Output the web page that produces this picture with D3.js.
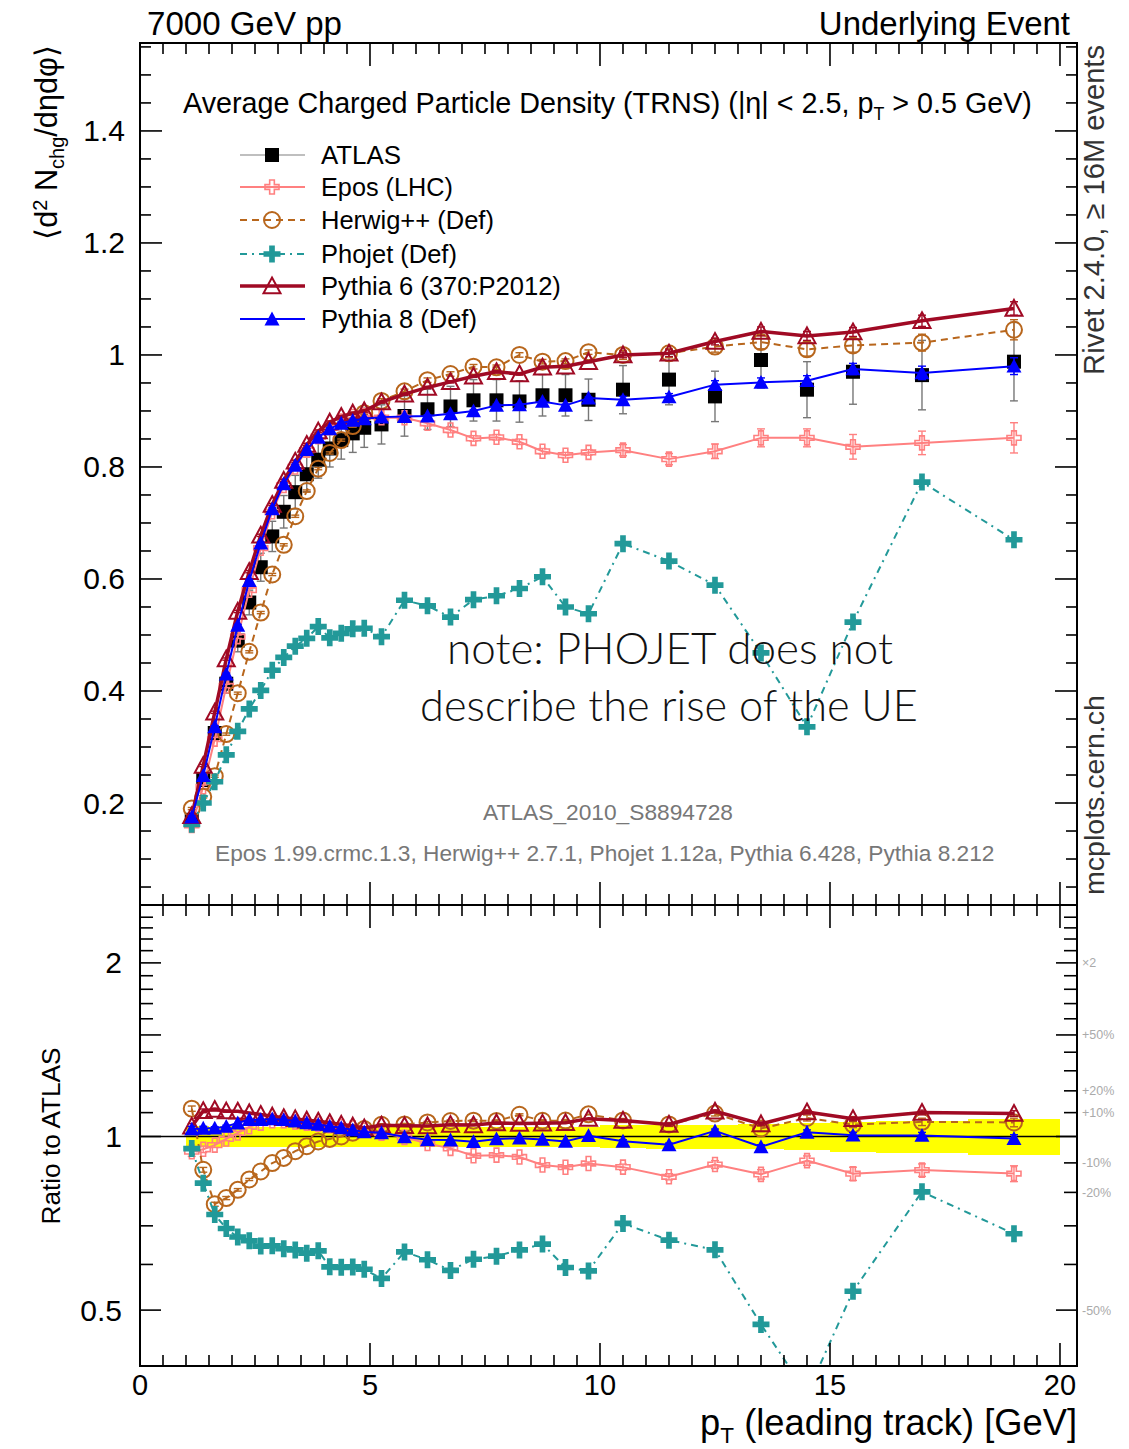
<!DOCTYPE html>
<html><head><meta charset="utf-8">
<script src="https://cdn.jsdelivr.net/npm/d3@7"></script>
<style>body{margin:0;background:#fff}svg{display:block}</style>
</head><body>
<svg id="c" width="1129" height="1449"></svg>
<script>
// ---------------- data ----------------
const pT = [1.125,1.375,1.625,1.875,2.125,2.375,2.625,2.875,3.125,3.375,3.625,3.875,4.125,4.375,4.625,4.875,
            5.25,5.75,6.25,6.75,7.25,7.75,8.25,8.75,9.25,9.75,10.5,11.5,12.5,13.5,14.5,15.5,17,19];
const binEdges = [1,1.25,1.5,1.75,2,2.25,2.5,2.75,3,3.25,3.5,3.75,4,4.25,4.5,4.75,5,
                  5.5,6,6.5,7,7.5,8,8.5,9,9.5,10,11,12,13,14,15,16,18,20];
const atlas = [0.170,0.241,0.325,0.413,0.490,0.558,0.621,0.676,0.720,0.755,0.787,0.813,0.833,0.848,0.860,0.870,
               0.876,0.891,0.903,0.908,0.919,0.919,0.917,0.928,0.928,0.920,0.938,0.956,0.926,0.991,0.938,0.970,0.964,0.988];
const atlasErr = [0.007,0.010,0.013,0.017,0.020,0.022,0.025,0.027,0.029,0.030,0.031,0.033,0.033,0.034,0.034,0.035,
                  0.035,0.036,0.036,0.036,0.037,0.037,0.037,0.037,0.037,0.037,0.043,0.045,0.045,0.050,0.050,0.058,0.062,0.070];
const epos = [0.160,0.229,0.314,0.409,0.497,0.580,0.655,0.720,0.767,0.800,0.830,0.854,0.870,0.882,0.890,0.892,
              0.888,0.888,0.878,0.866,0.851,0.853,0.845,0.828,0.821,0.826,0.830,0.814,0.828,0.852,0.852,0.836,0.843,0.852];
const eposErr = [0.003,0.003,0.003,0.003,0.003,0.003,0.003,0.003,0.003,0.003,0.003,0.003,0.003,0.003,0.003,0.003,
                 0.005,0.005,0.005,0.005,0.005,0.005,0.005,0.005,0.005,0.005,0.010,0.010,0.013,0.016,0.016,0.022,0.021,0.027];
const herwig = [0.190,0.211,0.248,0.323,0.396,0.470,0.540,0.608,0.661,0.712,0.757,0.797,0.825,0.848,0.873,0.896,
                0.918,0.935,0.955,0.966,0.979,0.978,1.000,0.988,0.989,1.005,1.000,1.003,1.015,1.023,1.010,1.017,1.022,1.045];
const herwigErr = [0.002,0.002,0.002,0.002,0.002,0.002,0.002,0.002,0.002,0.002,0.002,0.002,0.002,0.002,0.002,0.002,
                   0.004,0.004,0.004,0.004,0.004,0.004,0.004,0.004,0.004,0.004,0.008,0.008,0.010,0.012,0.012,0.012,0.015,0.018];
const phojet = [0.162,0.200,0.238,0.286,0.328,0.368,0.401,0.437,0.460,0.480,0.494,0.515,0.495,0.503,0.511,0.512,
                0.497,0.562,0.552,0.532,0.563,0.570,0.583,0.604,0.550,0.538,0.663,0.632,0.589,0.468,0.336,0.523,0.773,0.670];
const pythia6 = [0.177,0.267,0.362,0.457,0.542,0.613,0.678,0.733,0.776,0.810,0.840,0.864,0.880,0.890,0.896,0.900,
                 0.916,0.930,0.942,0.952,0.962,0.970,0.966,0.978,0.980,0.988,1.000,1.003,1.024,1.042,1.034,1.041,1.061,1.083];
const pythia6Err = [0.002,0.002,0.002,0.002,0.002,0.002,0.002,0.002,0.002,0.002,0.002,0.002,0.002,0.002,0.002,0.002,
                    0.002,0.002,0.002,0.002,0.002,0.002,0.002,0.002,0.002,0.002,0.005,0.006,0.006,0.008,0.008,0.008,0.010,0.012];
const pythia8 = [0.175,0.249,0.336,0.430,0.517,0.597,0.664,0.725,0.770,0.803,0.831,0.853,0.868,0.878,0.883,0.886,
                 0.889,0.890,0.891,0.895,0.900,0.910,0.911,0.917,0.910,0.923,0.920,0.925,0.947,0.951,0.954,0.975,0.968,0.980];
const pythia8Err = [0.002,0.002,0.002,0.002,0.002,0.002,0.002,0.002,0.002,0.002,0.002,0.002,0.002,0.002,0.002,0.002,
                    0.002,0.002,0.002,0.002,0.002,0.002,0.002,0.002,0.002,0.002,0.006,0.006,0.007,0.008,0.009,0.010,0.012,0.015];
const seriesNames = ["ATLAS","Epos (LHC)","Herwig++ (Def)","Phojet (Def)","Pythia 6 (370:P2012)","Pythia 8 (Def)"];
const xTickLabels = [0,5,10,15,20];
const yTickLabels = [0.2,0.4,0.6,0.8,1,1.2,1.4];
const ratioTickLabels = [0.5,1,2];
const ratioSideLabels = [["\u00d72",2],["+50%",1.5],["+20%",1.2],["+10%",1.1],["-10%",0.9],["-20%",0.8],["-50%",0.5]];

// ---------------- layout ----------------
const FONT = "'Liberation Sans', Arial, Helvetica, sans-serif";
const svg = d3.select("#c");
const X0 = 140, X1 = 1077, T0 = 43, T1 = 905, R0 = 905, R1 = 1366;
const x = d3.scaleLinear().domain([0, 20.37]).range([X0, X1]);
const y = d3.scaleLinear().domain([0.0179, 1.557]).range([T1, T0]);
const yr = d3.scaleLog().domain([0.4, 2.52]).range([R1, R0]);

svg.append("rect").attr("width",1129).attr("height",1449).attr("fill","#fff");

const defs = svg.append("defs");
defs.append("clipPath").attr("id","clipTop").append("rect").attr("x",X0).attr("y",T0).attr("width",X1-X0).attr("height",T1-T0);
defs.append("clipPath").attr("id","clipRat").append("rect").attr("x",X0).attr("y",R0).attr("width",X1-X0).attr("height",R1-R0);

// -------- marker shapes --------
function crossPath(s){const a=s/6,h=s/2;return `M${-a},${-h}L${a},${-h}L${a},${-a}L${h},${-a}L${h},${a}L${a},${a}L${a},${h}L${-a},${h}L${-a},${a}L${-h},${a}L${-h},${-a}L${-a},${-a}Z`;}
function triPath(s){const h=s*0.5;return `M0,${-h}L${h},${h*0.85}L${-h},${h*0.85}Z`;}
function drawMarker(g, type, color){
  if(type==="square") g.append("rect").attr("x",-7).attr("y",-7).attr("width",14).attr("height",14).attr("fill","#000");
  else if(type==="opencross") g.append("path").attr("d",crossPath(14)).attr("fill","none").attr("stroke",color).attr("stroke-width",1.6);
  else if(type==="opencircle") g.append("circle").attr("r",8).attr("fill","none").attr("stroke",color).attr("stroke-width",2);
  else if(type==="fullcross") g.append("path").attr("d",crossPath(17)).attr("fill",color);
  else if(type==="opentri") g.append("path").attr("d",triPath(17)).attr("fill","none").attr("stroke",color).attr("stroke-width",2);
  else if(type==="fulltri") g.append("path").attr("d",triPath(15)).attr("fill",color);
}

const series = [
  {name:seriesNames[1], vals:epos, err:eposErr, color:"#ff8080", lw:2, dash:null, marker:"opencross"},
  {name:seriesNames[2], vals:herwig, err:herwigErr, color:"#b8661c", lw:2, dash:"7,5", marker:"opencircle"},
  {name:seriesNames[3], vals:phojet, err:null, color:"#229999", lw:2, dash:"7,5,2,5", marker:"fullcross"},
  {name:seriesNames[4], vals:pythia6, err:pythia6Err, color:"#a00a24", lw:3.5, dash:null, marker:"opentri"},
  {name:seriesNames[5], vals:pythia8, err:pythia8Err, color:"#0000ff", lw:2, dash:null, marker:"fulltri"}
];

// -------- ratio band (drawn first) --------
const gRat = svg.append("g").attr("clip-path","url(#clipRat)");
pT.forEach((p,i)=>{
  const rel = atlasErr[i]/atlas[i];
  gRat.append("rect").attr("x",x(binEdges[i])).attr("width",x(binEdges[i+1])-x(binEdges[i]))
    .attr("y",yr(1+rel)).attr("height",yr(1-rel)-yr(1+rel)).attr("fill","#ffff00").attr("shape-rendering","crispEdges");
});
gRat.append("line").attr("x1",X0).attr("x2",X1).attr("y1",yr(1)).attr("y2",yr(1)).attr("stroke","#000").attr("stroke-width",1.6);

// -------- top panel data --------
const gTop = svg.append("g").attr("clip-path","url(#clipTop)");
pT.forEach((p,i)=>{
  const cx=x(p), y1=y(atlas[i]-atlasErr[i]), y2=y(atlas[i]+atlasErr[i]);
  gTop.append("line").attr("x1",cx).attr("x2",cx).attr("y1",y1).attr("y2",y2).attr("stroke","#777").attr("stroke-width",1.4);
  [y1,y2].forEach(yy=>gTop.append("line").attr("x1",cx-4).attr("x2",cx+4).attr("y1",yy).attr("y2",yy).attr("stroke","#777").attr("stroke-width",1.4));
});
pT.forEach((p,i)=>{ drawMarker(gTop.append("g").attr("transform",`translate(${x(p)},${y(atlas[i])})`),"square"); });

function drawSeries(g, vals, err, s, ys){
  const line = d3.line().x((d,i)=>x(pT[i])).y(d=>ys(d));
  g.append("path").attr("d",line(vals)).attr("fill","none").attr("stroke",s.color).attr("stroke-width",s.lw)
    .attr("stroke-dasharray",s.dash).attr("stroke-linejoin","round");
  if(err){
    vals.forEach((v,i)=>{
      const cx=x(pT[i]), a=ys(v-err[i]), b=ys(v+err[i]);
      if(Math.abs(a-b)<2) return;
      g.append("line").attr("x1",cx).attr("x2",cx).attr("y1",a).attr("y2",b).attr("stroke",s.color).attr("stroke-width",1.4);
      [a,b].forEach(yy=>g.append("line").attr("x1",cx-4).attr("x2",cx+4).attr("y1",yy).attr("y2",yy).attr("stroke",s.color).attr("stroke-width",1.4));
    });
  }
  vals.forEach((v,i)=>drawMarker(g.append("g").attr("transform",`translate(${x(pT[i])},${ys(v)})`), s.marker, s.color));
}
series.forEach(s=>drawSeries(gTop, s.vals, s.err, s, y));

// -------- ratio panel data --------
series.forEach(s=>{
  const r = s.vals.map((v,i)=>v/atlas[i]);
  const re = s.err ? s.err.map((e,i)=>e/atlas[i]) : null;
  drawSeries(gRat, r, re, s, yr);
});

// -------- frames & ticks --------
const axG = svg.append("g").attr("stroke","#000").attr("stroke-width",1.6);
const xt = d3.range(0, 20.3, 0.5);
function xTicksAt(yy, dir){
  xt.forEach(v=>{ const major = Math.abs(v%5)<1e-6; const L = major?23:11;
    axG.append("line").attr("x1",x(v)).attr("x2",x(v)).attr("y1",yy).attr("y2",yy+dir*L); });
}
xTicksAt(T0, 1); xTicksAt(T1, -1); xTicksAt(R0, 1); xTicksAt(R1, -1);
d3.range(0.05, 1.556, 0.05).forEach(v=>{
  const vv = Math.round(v*100)/100; if(y(vv)<T0+1||y(vv)>T1-1) return;
  const major = Math.abs(Math.round(vv*10)%2)===0 && Math.abs(vv*10-Math.round(vv*10))<1e-6;
  const L = major?22:11;
  axG.append("line").attr("x1",X0).attr("x2",X0+L).attr("y1",y(vv)).attr("y2",y(vv));
  axG.append("line").attr("x1",X1).attr("x2",X1-L).attr("y1",y(vv)).attr("y2",y(vv));
});
d3.range(5, 25, 1).map(k=>k/10).forEach(v=>{
  if(yr(v)<R0+2) return;
  const major = (v===0.5||v===1||v===1.5||v===2);
  const L = major?21:13;
  axG.append("line").attr("x1",X0).attr("x2",X0+L).attr("y1",yr(v)).attr("y2",yr(v));
  axG.append("line").attr("x1",X1).attr("x2",X1-L).attr("y1",yr(v)).attr("y2",yr(v));
});
svg.append("rect").attr("x",X0).attr("y",T0).attr("width",X1-X0).attr("height",T1-T0).attr("fill","none").attr("stroke","#000").attr("stroke-width",2);
svg.append("rect").attr("x",X0).attr("y",R0).attr("width",X1-X0).attr("height",R1-R0).attr("fill","none").attr("stroke","#000").attr("stroke-width",2);

// -------- text helpers --------
function fitW(t, w){ const bw=t.node().getBBox().width; if(bw>0){ const fs=parseFloat(t.attr("font-size")); t.attr("font-size", fs*w/bw);} return t; }
function txt(xx,yy,s,fs,anchor,fill){ return svg.append("text").attr("x",xx).attr("y",yy).attr("font-family",FONT).attr("font-size",fs)
  .attr("text-anchor",anchor||"start").attr("fill",fill||"#000").text(s); }

// tick labels
yTickLabels.forEach(v=>txt(125, y(v)+10.5, d3.format("")(v), 30, "end"));
xTickLabels.forEach(v=>txt(x(v), 1395, String(v), 29, "middle"));
ratioTickLabels.forEach(v=>txt(122, yr(v)+10.5, String(v), 30, "end"));
ratioSideLabels.forEach(([s,v])=>txt(1082, yr(v)+4.5, s, 12.5, "start", "#aaa"));

// header
fitW(txt(147, 35, "7000 GeV pp", 30), 195);
fitW(txt(1070, 35, "Underlying Event", 30, "end"), 252);

// title
{
  const t = svg.append("text").attr("x",183).attr("y",113).attr("font-family",FONT).attr("font-size",27).attr("fill","#000");
  t.append("tspan").text("Average Charged Particle Density (TRNS) (|\u03b7| < 2.5, p");
  t.append("tspan").attr("dy",7).style("font-size","62%").text("T");
  t.append("tspan").attr("dy",-7).text(" > 0.5 GeV)");
  fitW(t, 849);
}

// legend
const legY = [155,187,220,254,286,319];
const legTextW = [80,132,173,136,240,156];
legY.forEach((ly,k)=>{
  const g = svg.append("g");
  if(k===0){
    g.append("line").attr("x1",240).attr("x2",305).attr("y1",ly).attr("y2",ly).attr("stroke","#aaa").attr("stroke-width",1.5);
    drawMarker(g.append("g").attr("transform",`translate(272,${ly})`),"square");
  } else {
    const s = series[k-1];
    g.append("line").attr("x1",240).attr("x2",305).attr("y1",ly).attr("y2",ly).attr("stroke",s.color).attr("stroke-width",s.lw).attr("stroke-dasharray",s.dash);
    drawMarker(g.append("g").attr("transform",`translate(272,${ly})`), s.marker, s.color);
  }
  fitW(txt(321, ly+9, seriesNames[k], 25), legTextW[k]);
});

// analysis + versions
fitW(txt(608, 820, "ATLAS_2010_S8894728", 20, "middle", "#777"), 250);
fitW(txt(215, 861, "Epos 1.99.crmc.1.3, Herwig++ 2.7.1, Phojet 1.12a, Pythia 6.428, Pythia 8.212", 20, "start", "#777"), 780);

// note
{
  const f = "Lato, 'Open Sans', sans-serif";
  const a = svg.append("text").attr("x",670).attr("y",664).attr("font-family",f).attr("font-weight",300).attr("font-size",38).attr("text-anchor","middle").attr("fill","#111").text("note: PHOJET does not");
  fitW(a, 446);
  const b = svg.append("text").attr("x",669).attr("y",721).attr("font-family",f).attr("font-weight",300).attr("font-size",38).attr("text-anchor","middle").attr("fill","#111").text("describe the rise of the UE");
  fitW(b, 498);
}

// y-axis title (top)
{
  const t = svg.append("text").attr("transform","translate(57,45) rotate(-90)").attr("text-anchor","end")
    .attr("font-family",FONT).attr("font-size",28).attr("fill","#000");
  t.append("tspan").text("\u27e8d");
  t.append("tspan").attr("dy",-10).style("font-size","65%").text("2");
  t.append("tspan").attr("dy",10).text(" N");
  t.append("tspan").attr("dy",7).style("font-size","65%").text("chg");
  t.append("tspan").attr("dy",-7).text("/d\u03b7d\u03c6\u27e9");
  fitW(t, 195);
}
// ratio title
{
  const t = svg.append("text").attr("transform","translate(60,1136) rotate(-90)").attr("text-anchor","middle")
    .attr("font-family",FONT).attr("font-size",24).attr("fill","#000").text("Ratio to ATLAS");
  fitW(t, 177);
}
// x-axis title
{
  const t = svg.append("text").attr("x",1077).attr("y",1435).attr("text-anchor","end")
    .attr("font-family",FONT).attr("font-size",31).attr("fill","#000");
  t.append("tspan").text("p");
  t.append("tspan").attr("dy",8).style("font-size","62%").text("T");
  t.append("tspan").attr("dy",-8).text(" (leading track) [GeV]");
  fitW(t, 377);
}
// right-side labels
{
  const a = svg.append("text").attr("transform","translate(1104,45) rotate(-90)").attr("text-anchor","end")
    .attr("font-family",FONT).attr("font-size",26).attr("fill","#333").text("Rivet 2.4.0, \u2265 16M events");
  fitW(a, 330);
  const b = svg.append("text").attr("transform","translate(1104,895) rotate(-90)").attr("text-anchor","start")
    .attr("font-family",FONT).attr("font-size",26).attr("fill","#333").text("mcplots.cern.ch");
  fitW(b, 200);
}
</script>
</body></html>
